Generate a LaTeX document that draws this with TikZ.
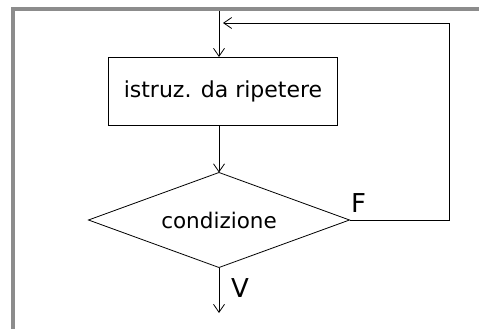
\documentclass[tikz,border=0pt]{standalone}
\usepackage{fontspec}
\setmainfont{DejaVu Sans}
\usetikzlibrary{positioning, arrows.meta, shapes.geometric}

\begin{document}
\begin{tikzpicture}[
  x=1pt, y=1pt,
  box/.style={draw, thick, rectangle, minimum width=229pt, minimum height=68pt,
              inner sep=0pt, outer sep=0pt, font=\fontsize{22}{26}\selectfont},
  cond/.style={draw, thick, diamond, aspect=2.75, minimum width=261pt,
               minimum height=95pt, inner sep=0pt, outer sep=0pt,
               font=\fontsize{21.5}{26}\selectfont},
  lab/.style={font=\fontsize{26}{30}\selectfont, inner sep=0pt, anchor=south west},
  flow/.style={thick, -{Straight Barb[length=8pt, width=11pt]}},
]
  \useasboundingbox (0,0) rectangle (479,-329);

  % grey frame (top and left only)
  \draw[black!45, line width=4pt] (13,-329) -- (13,-9) -- (479,-9);

  % blocks
  \node[box]  (istr) at (223,-91)  {istruz. da ripetere};
  \node[cond] (cond) at (219,-220) {condizione};

  % free ends
  \coordinate (entry) at (219,-11);
  \coordinate (exit)  at (219,-313);
  \coordinate (back)  at (223,-23);

  % connectors
  \draw[flow] (entry) -- (entry |- istr.north);
  \draw[flow] (cond.north |- istr.south) -- (cond.north);
  \draw[flow] (cond.south) -- (exit);
  \draw[flow] (cond.east) -| (449,-23) -- (back);

  % labels
  \node[lab] (f) at (351,-213) {F};
  \node[lab] (v) at (231,-298) {V};
\end{tikzpicture}
\end{document}
